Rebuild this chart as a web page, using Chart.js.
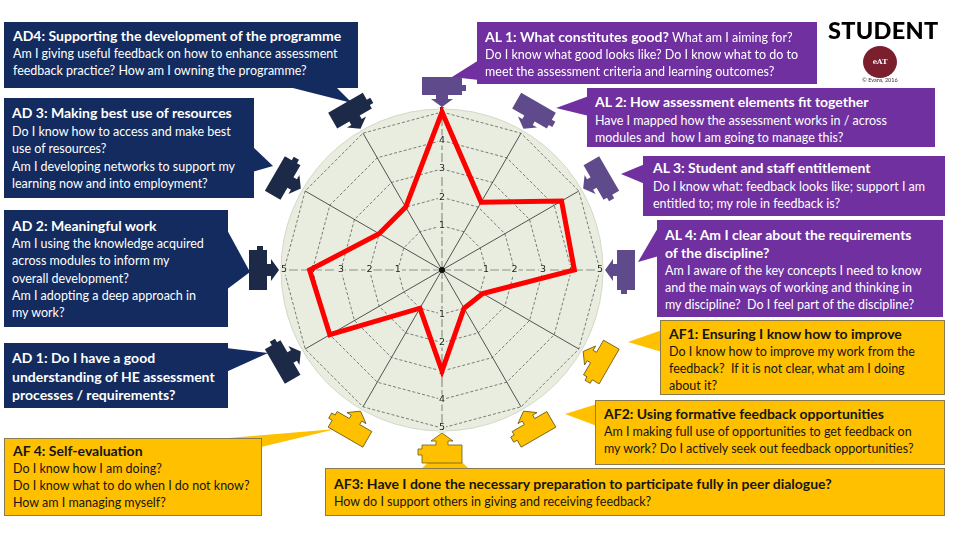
<!DOCTYPE html>
<html>
<head>
<meta charset="utf-8">
<script src="https://cdn.jsdelivr.net/npm/chart.js@4"></script>
<style>
body{margin:0;width:960px;height:540px;overflow:hidden;background:#fff;font-family:Lato,"Noto Sans",sans-serif;position:relative}
#radar{position:absolute;left:0;top:0}
.box{position:absolute;box-sizing:border-box;padding:5px 8px;font-size:12.5px;line-height:17px;white-space:nowrap;color:#fff}
.box b{font-size:14px}
.ad{background:#132b5e}
.al{background:#7030a0}
.af{background:#ffc000;color:#151515;border:1px solid #8a7a50}
#student{position:absolute;left:828px;top:16px;font-size:23.5px;font-weight:900;color:#000;letter-spacing:0.3px}
#logo{position:absolute;left:863px;top:46px;width:34px;height:32px;border-radius:50%;background:#7b1f2e;color:#fff;font:bold 7px "DejaVu Serif",serif;text-align:center;line-height:32px}
#copy{position:absolute;left:850px;top:77px;width:60px;text-align:center;font-size:5.5px;color:#333}
</style>
</head>
<body>
<canvas id="radar" width="960" height="540"></canvas>

<div class="box ad" style="left:4px;top:22px;width:354px;height:66px;padding-left:9px">
<b>AD4: Supporting the development of the programme</b><br>
Am I giving useful feedback on how to enhance assessment<br>
feedback practice? How am I owning the programme?</div>

<div class="box al" style="left:477px;top:22px;width:340px;height:62px;padding-top:6px">
<b>AL 1: What constitutes good?</b> What am I aiming for?<br>
Do I know what good looks like? Do I know what to do to<br>
meet the assessment criteria and learning outcomes?</div>

<div id="student">STUDENT</div>
<div id="logo">eAT</div>
<div id="copy">© Evans, 2016</div>

<div class="box ad" style="left:4px;top:98px;width:250px;height:100px;padding-top:6px;line-height:17.5px">
<b>AD 3: Making best use of resources</b><br>
Do I know how to access and make best<br>
use of resources?<br>
Am I developing networks to support my<br>
learning now and into employment?</div>

<div class="box al" style="left:587px;top:88px;width:348px;height:59px;line-height:17.5px">
<b>AL 2: How assessment elements fit together</b><br>
Have I mapped how the assessment works in / across<br>
modules and &nbsp;how I am going to manage this?</div>

<div class="box al" style="left:643px;top:156px;width:302px;height:60px;padding:3px 10px;line-height:17.5px">
<b>AL 3: Student and staff entitlement</b><br>
Do I know what: feedback looks like; support I am<br>
entitled to; my role in feedback is?</div>

<div class="box ad" style="left:4px;top:210px;width:224px;height:117px;padding-top:7px;line-height:17.2px">
<b>AD 2: Meaningful work</b><br>
Am I using the knowledge acquired<br>
across modules to inform my<br>
overall development?<br>
Am I adopting a deep approach in<br>
my work?</div>

<div class="box al" style="left:657px;top:220px;width:286px;height:97px;padding-top:6px">
<b>AL 4: Am I clear about the requirements<br>of the discipline?</b><br>
Am I aware of the key concepts I need to know<br>
and the main ways of working and thinking in<br>
my discipline? &nbsp;Do I feel part of the discipline?</div>

<div class="box ad" style="left:4px;top:343px;width:224px;height:65px;padding-top:6px;line-height:17.5px">
<b>AD 1: Do I have a good<br>understanding of HE assessment<br>processes / requirements?</b></div>

<div class="box af" style="left:660px;top:320px;width:285px;height:75px;padding-top:4px">
<b>AF1: Ensuring I know how to improve</b><br>
Do I know how to improve my work from the<br>
feedback? &nbsp;If it is not clear, what am I doing<br>
about it?</div>

<div class="box af" style="left:595px;top:400px;width:350px;height:65px;padding-top:4px">
<b>AF2: Using formative feedback opportunities</b><br>
Am I making full use of opportunities to get feedback on<br>
my work? Do I actively seek out feedback opportunities?</div>

<div class="box af" style="left:4px;top:438px;width:258px;height:78px;padding-top:3px">
<b>AF 4: Self-evaluation</b><br>
Do I know how I am doing?<br>
Do I know what to do when I do not know?<br>
How am I managing myself?</div>

<div class="box af" style="left:325px;top:468px;width:620px;height:48px;padding-top:6px">
<b>AF3: Have I done the necessary preparation to participate fully in peer dialogue?</b><br>
How do I support others in giving and receiving feedback?</div>

<script>
// 12 spokes, clockwise from the top
const axisLabels = ['AL 1', 'AL 2', 'AL 3', 'AL 4', 'AF1', 'AF2', 'AF3', 'AF 4', 'AD 1', 'AD 2', 'AD 3', 'AD4'];
const axisGroups = ['AL', 'AL', 'AL', 'AL', 'AF', 'AF', 'AF', 'AF', 'AD', 'AD', 'AD', 'AD'];
const scores = [5, 2.2, 4.3, 4.1, 1.1, 1, 3, 1, 4, 4.1, 2, 2];
const tickValues = [1, 2, 3, 4, 5];
const scaleMin = -0.55;
const scaleMax = 5;

const navy = '#132b5e', purple = '#7030a0', yellow = '#ffc000';
const pieceColor = {AD: '#1c2a48', AL: '#5f4b8b', AF: '#ffc000'};

// callout tails, drawn under the boxes
const tails = [
  [navy, [[285, 86], [335, 86], [352, 103]]],
  [purple, [[479, 60], [479, 80], [452, 77]]],
  [purple, [[589, 96], [589, 116], [556, 108]]],
  [purple, [[645, 164], [645, 184], [621, 174]]],
  [purple, [[659, 226], [659, 256], [638, 262]]],
  [navy, [[252, 146], [252, 172], [273, 166]]],
  [navy, [[226, 228], [226, 290], [250, 272]]],
  [navy, [[226, 348], [226, 372], [268, 353]]],
  [yellow, [[662, 330], [662, 352], [628, 342]]],
  [yellow, [[597, 404], [597, 426], [565, 414]]],
  [yellow, [[420, 470], [470, 470], [446, 446]]],
  [yellow, [[205, 440], [261, 447], [336, 429]]]
];

function drawPiece(ctx, color) {
  ctx.beginPath();
  ctx.moveTo(-20, -17);
  ctx.lineTo(20, -17);
  ctx.lineTo(20, -9);
  ctx.lineTo(24, -9);
  ctx.lineTo(24, -3);
  ctx.lineTo(20, -3);
  ctx.lineTo(20, 1);
  ctx.lineTo(6, 1);
  ctx.lineTo(6, 5);
  ctx.lineTo(11, 5);
  ctx.lineTo(0, 13);
  ctx.lineTo(-11, 5);
  ctx.lineTo(-6, 5);
  ctx.lineTo(-6, 1);
  ctx.lineTo(-20, 1);
  ctx.closePath();
  ctx.fillStyle = color;
  ctx.fill();
  if (color === yellow) {
    ctx.strokeStyle = '#6b5a1a';
    ctx.lineWidth = 0.8;
    ctx.stroke();
  }
}

const decor = {
  id: 'decor',
  beforeDraw(chart) {
    const ctx = chart.ctx, s = chart.scales.r;
    ctx.save();
    ctx.fillStyle = '#fff';
    ctx.fillRect(0, 0, chart.width, chart.height);
    tails.forEach(t => {
      ctx.beginPath();
      t[1].forEach((p, i) => i ? ctx.lineTo(p[0], p[1]) : ctx.moveTo(p[0], p[1]));
      ctx.closePath();
      ctx.fillStyle = t[0];
      ctx.fill();
    });
    ctx.beginPath();
    ctx.arc(s.xCenter, s.yCenter, s.drawingArea + 3, 0, Math.PI * 2);
    ctx.fillStyle = '#e9eddf';
    ctx.fill();
    ctx.strokeStyle = '#d3d8c8';
    ctx.lineWidth = 1;
    ctx.stroke();
    axisLabels.forEach((l, i) => {
      const p = s.getPointPosition(i, s.drawingArea + 18);
      ctx.save();
      ctx.translate(p.x, p.y);
      ctx.rotate(p.angle + Math.PI / 2);
      drawPiece(ctx, pieceColor[axisGroups[i]]);
      ctx.restore();
    });
    ctx.restore();
  },
  beforeDatasetsDraw(chart) {
    const ctx = chart.ctx, s = chart.scales.r;
    ctx.save();
    ctx.font = '9.5px "DejaVu Sans", sans-serif';
    ctx.textAlign = 'center';
    ctx.textBaseline = 'middle';
    [0, 3, 6, 9].forEach(i => {
      tickValues.forEach(v => {
        const p = s.getPointPositionForValue(i, v);
        ctx.fillStyle = '#e9eddf';
        ctx.fillRect(p.x - 4, p.y - 5, 8, 10);
        ctx.fillStyle = '#222';
        ctx.fillText(String(v), p.x, p.y);
      });
    });
    ctx.beginPath();
    ctx.arc(s.xCenter, s.yCenter, 3, 0, Math.PI * 2);
    ctx.fillStyle = '#111';
    ctx.fill();
    ctx.restore();
  }
};

new Chart(document.getElementById('radar'), {
  type: 'radar',
  data: {
    labels: axisLabels,
    datasets: [{
      data: scores,
      borderColor: '#ff0000',
      borderWidth: 5,
      borderJoinStyle: 'miter',
      backgroundColor: 'rgba(0,0,0,0)',
      fill: false,
      pointRadius: 0,
      tension: 0,
      clip: false
    }]
  },
  options: {
    responsive: false,
    animation: false,
    layout: {padding: {left: 284, right: 360, top: 112, bottom: 112}},
    plugins: {legend: {display: false}, tooltip: {enabled: false}},
    scales: {
      r: {
        min: scaleMin,
        max: scaleMax,
        afterBuildTicks: sc => {
          sc.ticks = [scaleMin].concat(tickValues).map(v => ({value: v}));
        },
        ticks: {display: false},
        pointLabels: {display: false},
        grid: {circular: false, color: '#5c5f58', lineWidth: 0.8},
        border: {dash: [3, 2]},
        angleLines: {
          color: c => c.index % 3 === 0 ? '#8d9288' : '#2b2b2b',
          lineWidth: c => c.index % 3 === 0 ? 1.2 : 0.8,
          borderDash: c => c.index % 3 === 0 ? [9, 3] : []
        }
      }
    }
  },
  plugins: [decor]
});
</script>
</body>
</html>
